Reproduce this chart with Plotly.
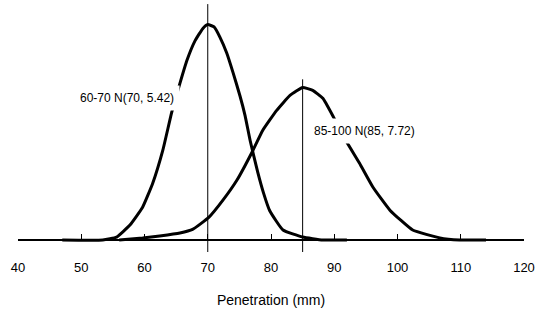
import plotly.graph_objects as go

# --- data ---
x_6070 = [47.0, 53.4, 55.6, 57.7, 59.7, 61.3, 62.9, 64.3, 65.6, 66.7, 68.0, 69.2, 70.0, 71.0,
          71.9, 73.0, 74.0, 75.1, 75.9, 76.7, 77.9, 78.8, 79.8, 81.9, 85.0, 88.2, 92.0]
y_6070 = [0.0, 0.0, 0.0010, 0.0051, 0.0112, 0.0194, 0.0307, 0.0436, 0.0535, 0.0613, 0.0681, 0.0722,
          0.0736, 0.0728, 0.0694, 0.0639, 0.0572, 0.0492, 0.0425, 0.0340, 0.0232, 0.0162, 0.0100,
          0.0034, 0.0010, 0.0, 0.0]

x_85100 = [56.0, 59.7, 62.4, 65.6, 67.6, 70.2, 72.4, 74.6, 77.0, 78.7, 80.9, 83.0, 85.0, 86.6,
           88.2, 89.9, 92.0, 94.0, 96.1, 98.8, 102.4, 106.7, 109.8, 114.0]
y_85100 = [0.0, 0.0007, 0.0014, 0.0024, 0.0036, 0.0078, 0.0136, 0.0204, 0.0300, 0.0375, 0.0443,
           0.0494, 0.0521, 0.0511, 0.0484, 0.0419, 0.0334, 0.0262, 0.0181, 0.0102, 0.0034, 0.0007,
           0.0, 0.0]

means = [70, 85]
mean_line_tops = [0.0806, 0.0549]
labels = ["60-70 N(70, 5.42)", "85-100 N(85, 7.72)"]
tick_vals = [40, 50, 60, 70, 80, 90, 100, 110, 120]
x_title = "Penetration (mm)"

FONT = "Liberation Sans, Arial, sans-serif"
Y_MIN, Y_MAX = -0.0041, 0.082

fig = go.Figure()
for xs, ys in [(x_6070, y_6070), (x_85100, y_85100)]:
    fig.add_trace(go.Scatter(x=xs, y=ys, mode="lines",
                             line=dict(color="black", width=3, shape="spline", smoothing=0.4),
                             hoverinfo="skip", showlegend=False))
for m, top in zip(means, mean_line_tops):
    fig.add_trace(go.Scatter(x=[m, m], y=[Y_MIN, top], mode="lines", line=dict(color="black", width=1),
                             hoverinfo="skip", showlegend=False))

fig.add_annotation(x=57.2, y=0.0485, text=labels[0], showarrow=False, bgcolor="white",
                   borderpad=5, font=dict(family=FONT, size=12, color="black"))
fig.add_annotation(x=94.8, y=0.0372, text=labels[1], showarrow=False, bgcolor="white",
                   borderpad=5, font=dict(family=FONT, size=12, color="black"))

fig.update_layout(
    width=541, height=320,
    margin=dict(l=18, r=17, t=0, b=68),
    plot_bgcolor="white", paper_bgcolor="white",
    xaxis=dict(range=[40, 120], tickvals=tick_vals, ticks="inside", ticklen=5, tickwidth=1,
               tickcolor="black", showline=True, linewidth=2, linecolor="black",
               showgrid=False, zeroline=False, anchor="free",
               position=(0 - Y_MIN) / (Y_MAX - Y_MIN),
               ticklabelstandoff=15, automargin=False,
               tickfont=dict(family=FONT, size=13, color="black"),
               title=dict(text=x_title, standoff=21, font=dict(family=FONT, size=14, color="black"))),
    yaxis=dict(range=[Y_MIN, Y_MAX], visible=False, showgrid=False, zeroline=False),
)

fig.write_html("out.html")
